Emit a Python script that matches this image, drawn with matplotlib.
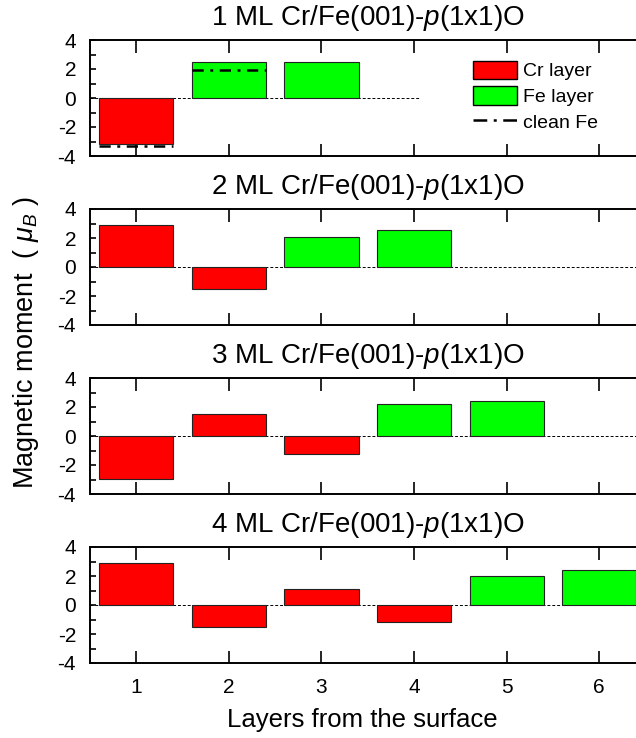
import matplotlib
matplotlib.use("Agg")
import matplotlib.pyplot as plt
from matplotlib.patches import Patch
from matplotlib.lines import Line2D
from matplotlib.ticker import MultipleLocator

plt.rcParams['font.family'] = ['Liberation Sans', 'DejaVu Sans']
plt.rcParams['mathtext.fontset'] = 'custom'
plt.rcParams['mathtext.rm'] = 'Liberation Sans'
plt.rcParams['mathtext.it'] = 'Liberation Sans:italic'
plt.rcParams['axes.unicode_minus'] = False

# ---------------- data ----------------
titles = ["1 ML Cr/Fe(001)-$p$(1x1)O",
          "2 ML Cr/Fe(001)-$p$(1x1)O",
          "3 ML Cr/Fe(001)-$p$(1x1)O",
          "4 ML Cr/Fe(001)-$p$(1x1)O"]
moments_1ml = [-3.15, 2.50, 2.48]
moments_2ml = [2.88, -1.49, 2.09, 2.53]
moments_3ml = [-2.96, 1.49, -1.27, 2.22, 2.42]
moments_4ml = [2.88, -1.50, 1.12, -1.17, 2.00, 2.44]
cr_layers = [1, 2, 3, 4]          # number of Cr layers per panel
clean_fe_layers = [1, 2]
clean_fe_moments = [-3.31, 1.95]
zero_line_end = [4.06, 6.5, 6.5, 6.5]
xticks = [1, 2, 3, 4, 5, 6]
yticks = [-4, -2, 0, 2, 4]
legend_labels = ['Cr layer', 'Fe layer', 'clean Fe']

all_moments = [moments_1ml, moments_2ml, moments_3ml, moments_4ml]

CR = '#FF0000'
FE = '#00FF00'
BAR_W = 0.8
DASHDOT = (0, (4.5, 2.6, 1.2, 2.6))
DASHDOT_LEG = (0, (5.5, 2.6, 1.2, 2.6))

W, H = 636, 738
fig = plt.figure(figsize=(W / 100, H / 100), dpi=100)

left_px = 90
right_px = 645.6
tops_px = [40, 209, 378, 547]
h_px = 116

for i, vals in enumerate(all_moments):
    ax = fig.add_axes([left_px / W, 1 - (tops_px[i] + h_px) / H,
                       (right_px - left_px) / W, h_px / H])
    layers = list(range(1, len(vals) + 1))
    colors = [CR if l <= cr_layers[i] else FE for l in layers]
    ax.hlines(0, 0.5, zero_line_end[i], colors='black', linewidth=0.7,
              linestyles=(0, (3, 2)), zorder=1)
    ax.bar(layers, vals, width=BAR_W, color=colors, edgecolor='#222222',
           linewidth=0.8, zorder=2)
    if i == 0:
        ax.hlines(clean_fe_moments,
                  [l - BAR_W / 2 for l in clean_fe_layers],
                  [l + BAR_W / 2 for l in clean_fe_layers],
                  colors='black', linewidth=1.8,
                  linestyles=DASHDOT, zorder=3)
        handles = [Patch(facecolor=CR, edgecolor='black', linewidth=1.0),
                   Patch(facecolor=FE, edgecolor='black', linewidth=1.0),
                   Line2D([], [], color='black', linewidth=1.8,
                          linestyle=DASHDOT_LEG)]
        ax.legend(handles, legend_labels,
                  loc='upper left', bbox_to_anchor=(0.689, 0.822),
                  frameon=False, fontsize=14, borderpad=0, borderaxespad=0,
                  handlelength=2.27, handleheight=1.07, labelspacing=0.30,
                  handletextpad=0.3)
    ax.set_xlim(0.5, 6.5)
    ax.set_ylim(-4, 4)
    ax.set_xticks(xticks)
    ax.set_yticks(yticks)
    ax.yaxis.set_minor_locator(MultipleLocator(1))
    ax.tick_params(axis='x', which='both', direction='in', top=True,
                   bottom=True, length=9, width=1.2, labelsize=15, pad=11)
    ax.tick_params(axis='y', which='major', direction='in', left=True,
                   right=False, length=4.5, width=1.2, labelsize=15, pad=10)
    ax.tick_params(axis='y', which='minor', direction='in', left=True,
                   right=False, length=4.5, width=1.2)
    if i < 3:
        ax.tick_params(axis='x', labelbottom=False)
    for s in ax.spines.values():
        s.set_linewidth(1.4)
    ax.set_title(titles[i], fontsize=20, pad=11)

fig.text(26 / W, 1 - 343 / H, r'Magnetic moment  ( $\mu_B$ )', rotation=90,
         ha='center', va='center', fontsize=19.5)
fig.text(362 / W, 1 - 720 / H, 'Layers from the surface', ha='center',
         va='center', fontsize=18.5)

fig.savefig('out.png', dpi=100)
